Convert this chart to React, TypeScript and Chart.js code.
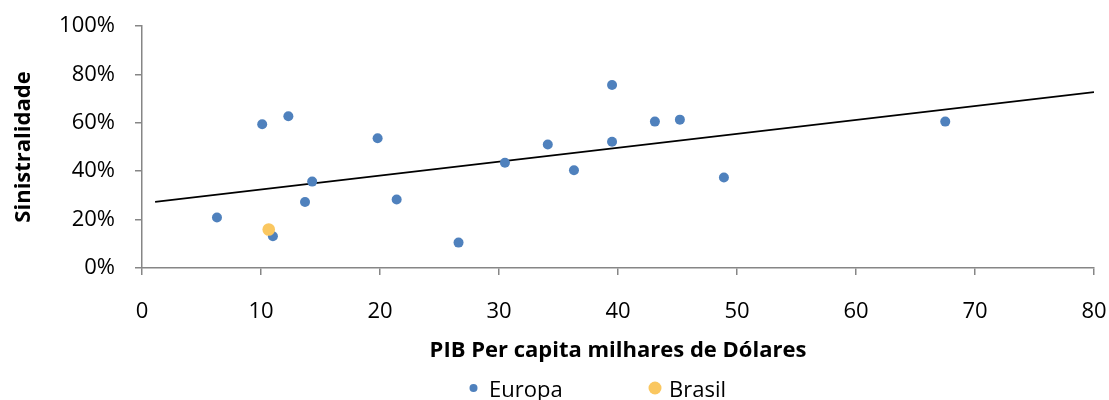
import React, { useEffect, useRef } from 'react';
import { Chart, registerables } from 'chart.js';

Chart.register(...registerables);

// Data
const europaX = [6.3, 10.1, 12.3, 11.0, 13.7, 14.3, 19.8, 21.4, 26.6, 30.5, 34.1, 36.3, 39.5, 39.5, 43.1, 45.2, 48.9, 67.5];
const europaY = [20.9, 59.4, 62.7, 13.1, 27.3, 35.7, 53.6, 28.3, 10.5, 43.5, 51.0, 40.4, 75.6, 52.2, 60.5, 61.3, 37.4, 60.5];
const brasilX = [10.65];
const brasilY = [15.9];
const trendX = [1.1, 80];
const trendY = [27.3, 72.7];

const xTicks = [0, 10, 20, 30, 40, 50, 60, 70, 80];
const xTickLabels = ['0', '10', '20', '30', '40', '50', '60', '70', '80'];
const yTicks = [0, 20, 40, 60, 80, 100];
const yTickLabels = ['0%', '20%', '40%', '60%', '80%', '100%'];

const seriesNames = ['Europa', 'Brasil'];
const xTitle = 'PIB Per capita milhares de Dólares';
const yTitle = 'Sinistralidade';

const BLUE = '#4F81BD';
const GOLD = '#FAC760';
const AXIS = '#868686';
const FONT = "'Open Sans', sans-serif";

export default function App() {
  const ref = useRef<HTMLCanvasElement>(null);

  useEffect(() => {
    document.body.style.margin = '0';
    const legendPlugin = {
      id: 'customLegend',
      afterDraw(chart: any) {
        const ctx = chart.ctx;
        const cx = chart.width / 2;
        const y = 388;
        const items = [
          { name: seriesNames[0], color: BLUE, r: 4, mx: cx - 81, tx: cx - 65.5 },
          { name: seriesNames[1], color: GOLD, r: 6.5, mx: cx + 100.5, tx: cx + 114.5 },
        ];
        ctx.save();
        ctx.font = `22px ${FONT}`;
        ctx.textBaseline = 'alphabetic';
        ctx.textAlign = 'left';
        for (const it of items) {
          ctx.beginPath();
          ctx.fillStyle = it.color;
          ctx.arc(it.mx, y, it.r, 0, Math.PI * 2);
          ctx.fill();
          ctx.fillStyle = '#000';
          ctx.fillText(it.name, it.tx, 396.5);
        }
        ctx.restore();
      },
    };

    const chart = new Chart(ref.current!, {
      type: 'scatter',
      data: {
        datasets: [
          {
            label: seriesNames[1],
            data: brasilX.map((x, i) => ({ x, y: brasilY[i] })),
            backgroundColor: GOLD,
            borderColor: GOLD,
            pointRadius: 6.3,
            borderWidth: 0,
            order: 1,
          },
          {
            label: seriesNames[0],
            data: europaX.map((x, i) => ({ x, y: europaY[i] })),
            backgroundColor: BLUE,
            borderColor: BLUE,
            pointRadius: 5,
            borderWidth: 0,
            order: 2,
          },
          {
            label: 'Tendência',
            type: 'line',
            data: trendX.map((x, i) => ({ x, y: trendY[i] })),
            borderColor: '#000',
            borderWidth: 1.8,
            pointRadius: 0,
            showLine: true,
            fill: false,
            order: 3,
          } as any,
        ],
      },
      options: {
        animation: false,
        responsive: false,
        maintainAspectRatio: false,
        layout: { padding: { top: 26, right: 15, left: 0, bottom: 32 } },
        plugins: { legend: { display: false }, tooltip: { enabled: false } },
        scales: {
          x: {
            type: 'linear',
            min: 0,
            max: 80,
            afterBuildTicks: (s: any) => {
              s.ticks = xTicks.map((v) => ({ value: v }));
            },
            afterFit: (s: any) => {
              s.height = 100;
              s.paddingRight = 0;
              s.paddingLeft = 0;
            },
            grid: { drawOnChartArea: false, drawTicks: true, tickLength: 7, color: AXIS, lineWidth: 1.5 },
            border: { color: AXIS, width: 1.5 },
            ticks: {
              padding: 24,
              color: '#000',
              font: { family: FONT, size: 22 },
              maxRotation: 0,
              callback: (_v: any, i: number) => xTickLabels[i],
            },
            title: {
              display: true,
              text: xTitle,
              color: '#000',
              font: { family: FONT, size: 22, weight: 'bold' },
              padding: { top: 0, bottom: 4 },
            },
          },
          y: {
            type: 'linear',
            min: 0,
            max: 100,
            afterBuildTicks: (s: any) => {
              s.ticks = yTicks.map((v) => ({ value: v }));
            },
            afterFit: (s: any) => {
              s.width = 142;
              s.paddingTop = 0;
              s.paddingBottom = 0;
            },
            grid: { drawOnChartArea: false, drawTicks: true, tickLength: 7, color: AXIS, lineWidth: 1.5 },
            border: { color: AXIS, width: 1.5 },
            ticks: {
              padding: 20,
              color: '#000',
              font: { family: FONT, size: 22 },
              callback: (_v: any, i: number) => yTickLabels[i],
            },
            title: {
              display: true,
              text: yTitle,
              color: '#000',
              font: { family: FONT, size: 22, weight: 'bold' },
              padding: { top: 11, bottom: 0 },
            },
          },
        },
      },
      plugins: [legendPlugin],
    });
    return () => chart.destroy();
  }, []);

  return <canvas ref={ref} width={1109} height={400} style={{ display: 'block' }} />;
}
